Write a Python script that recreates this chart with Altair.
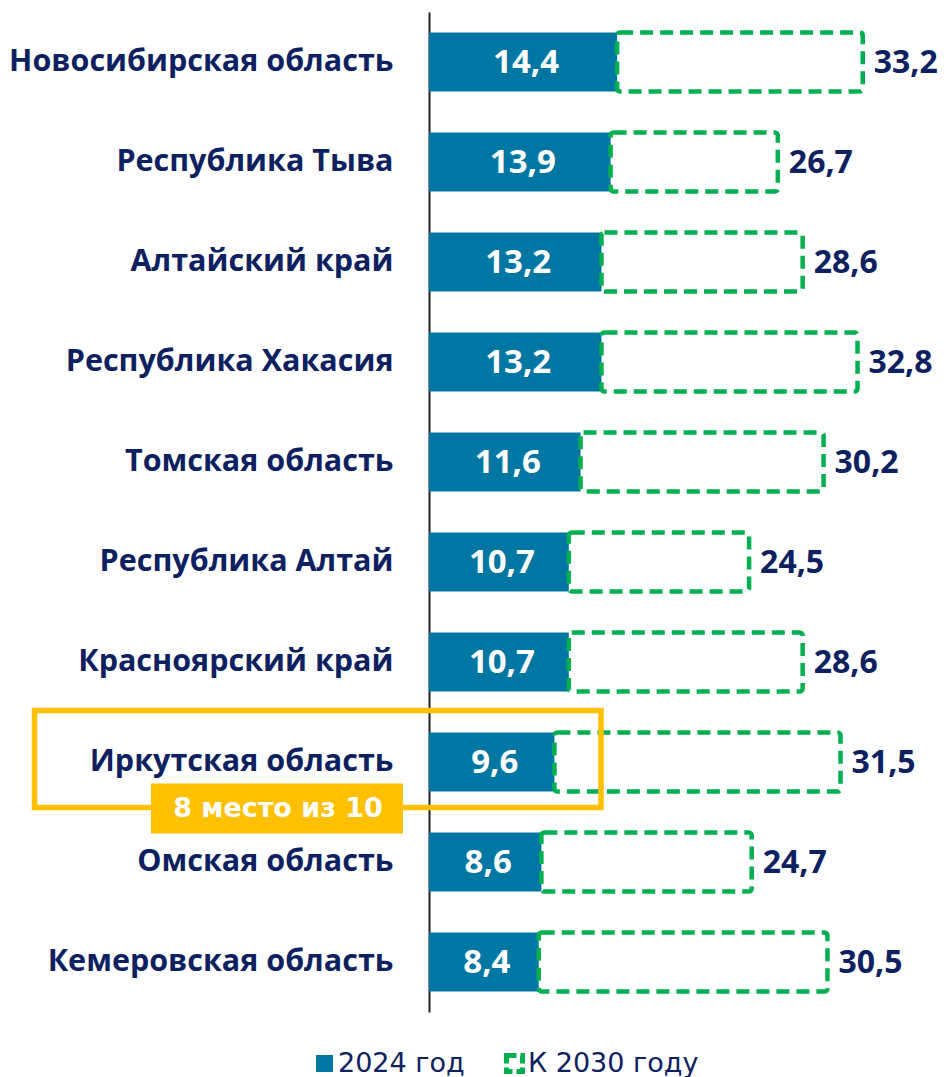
import altair as alt
import pandas as pd

regions = ["Новосибирская область", "Республика Тыва", "Алтайский край",
           "Республика Хакасия", "Томская область", "Республика Алтай",
           "Красноярский край", "Иркутская область", "Омская область",
           "Кемеровская область"]
v2024 = [14.4, 13.9, 13.2, 13.2, 11.6, 10.7, 10.7, 9.6, 8.6, 8.4]
v2030 = [33.2, 26.7, 28.6, 32.8, 30.2, 24.5, 28.6, 31.5, 24.7, 30.5]
series_names = ["2024 год", "К 2030 году"]
highlight_region = "Иркутская область"
highlight_text = "8 место из 10"

NAVY = "#0d2160"
BLUE = "#0076A3"
GREEN = "#00B050"
YELLOW = "#FFC000"

def fmt(v):
    return f"{v:.1f}".replace(".", ",")

df = pd.DataFrame({"region": regions, "v2024": v2024, "v2030": v2030})
df["s2024"] = series_names[0]
df["s2030"] = series_names[1]
df["l2024"] = [fmt(v) for v in v2024]
df["l2030"] = [fmt(v) for v in v2030]
df["mid"] = df["v2024"] / 2

hl = pd.DataFrame({"region": [highlight_region], "txt": [highlight_text]})

y = alt.Y("region:N", sort=regions, title=None,
          scale=alt.Scale(paddingInner=0.41, paddingOuter=0.205),
          axis=alt.Axis(labelFont="Open Sans", labelFontWeight="bold",
                        labelFontSize=30.5, labelColor=NAVY, labelPadding=36,
                        ticks=False, domainColor="#222222", domainWidth=2,
                        labelLimit=600))
xs = alt.Scale(domain=[0, 38.5], nice=False, zero=True)

base = alt.Chart(df)

blue = base.mark_bar().encode(
    y=y,
    x=alt.X("v2024:Q", scale=xs, axis=None),
    fill=alt.Fill("s2024:N", scale=alt.Scale(domain=[series_names[0]], range=[BLUE]),
                  legend=alt.Legend(title=None, orient="none", legendX=-118, legendY=1038,
                                    symbolType="square", symbolSize=289,
                                    symbolStrokeWidth=0, labelFont="DejaVu Sans",
                                    labelFontSize=27, labelColor=NAVY, labelOffset=0,
                                    labelLimit=400)),
)

box = base.mark_bar(fill="white", fillOpacity=0, strokeWidth=4.5, strokeDash=[13, 7],
                    cornerRadius=3).encode(
    y=y,
    x=alt.X("v2024:Q", scale=xs, axis=None),
    x2="v2030:Q",
    stroke=alt.Stroke("s2030:N", scale=alt.Scale(domain=[series_names[1]], range=[GREEN]),
                      legend=alt.Legend(title=None, orient="none", legendX=72, legendY=1038,
                                        symbolType="square", symbolSize=256,
                                        symbolStrokeWidth=5, symbolDash=[10, 4],
                                        symbolFillColor="white", labelFont="DejaVu Sans",
                                        labelFontSize=27, labelColor=NAVY, labelOffset=0,
                                        labelLimit=400)),
)

lab24 = base.mark_text(font="Open Sans", fontWeight="bold", fontSize=33, color="white",
                       align="center", baseline="middle", dx=3, dy=1).encode(
    y=y, x=alt.X("mid:Q", scale=xs, axis=None), text="l2024:N")

lab30 = base.mark_text(font="Open Sans", fontWeight="bold", fontSize=32, color=NAVY,
                       align="left", baseline="middle", dx=11, dy=1).encode(
    y=y, x=alt.X("v2030:Q", scale=xs, axis=None), text="l2030:N")

hbase = alt.Chart(hl)
hrect = hbase.mark_bar(filled=False, stroke=YELLOW, strokeWidth=5.5, height=97,
                       yOffset=-3).encode(
    y=y, x=alt.value(-394.5), x2=alt.value(172))
hbox = hbase.mark_bar(color=YELLOW, height=50, yOffset=46.5).encode(
    y=y, x=alt.value(-278), x2=alt.value(-26))
htxt = hbase.mark_text(font="DejaVu Sans", fontWeight="bold", fontSize=27, color="white",
                       align="center", baseline="middle", dy=47).encode(
    y=y, x=alt.value(-151), text="txt:N")

chart = alt.layer(blue, box, lab24, lab30, hrect, hbox, htxt).properties(
    width=503, height=1000,
    autosize=alt.AutoSizeParams(type="none"),
    padding={"left": 421, "top": 4, "right": 9, "bottom": 65},
).resolve_legend(fill="independent", stroke="independent").configure_view(stroke=None)

chart.save("out.html", embed_options={"renderer": "svg", "actions": False})
